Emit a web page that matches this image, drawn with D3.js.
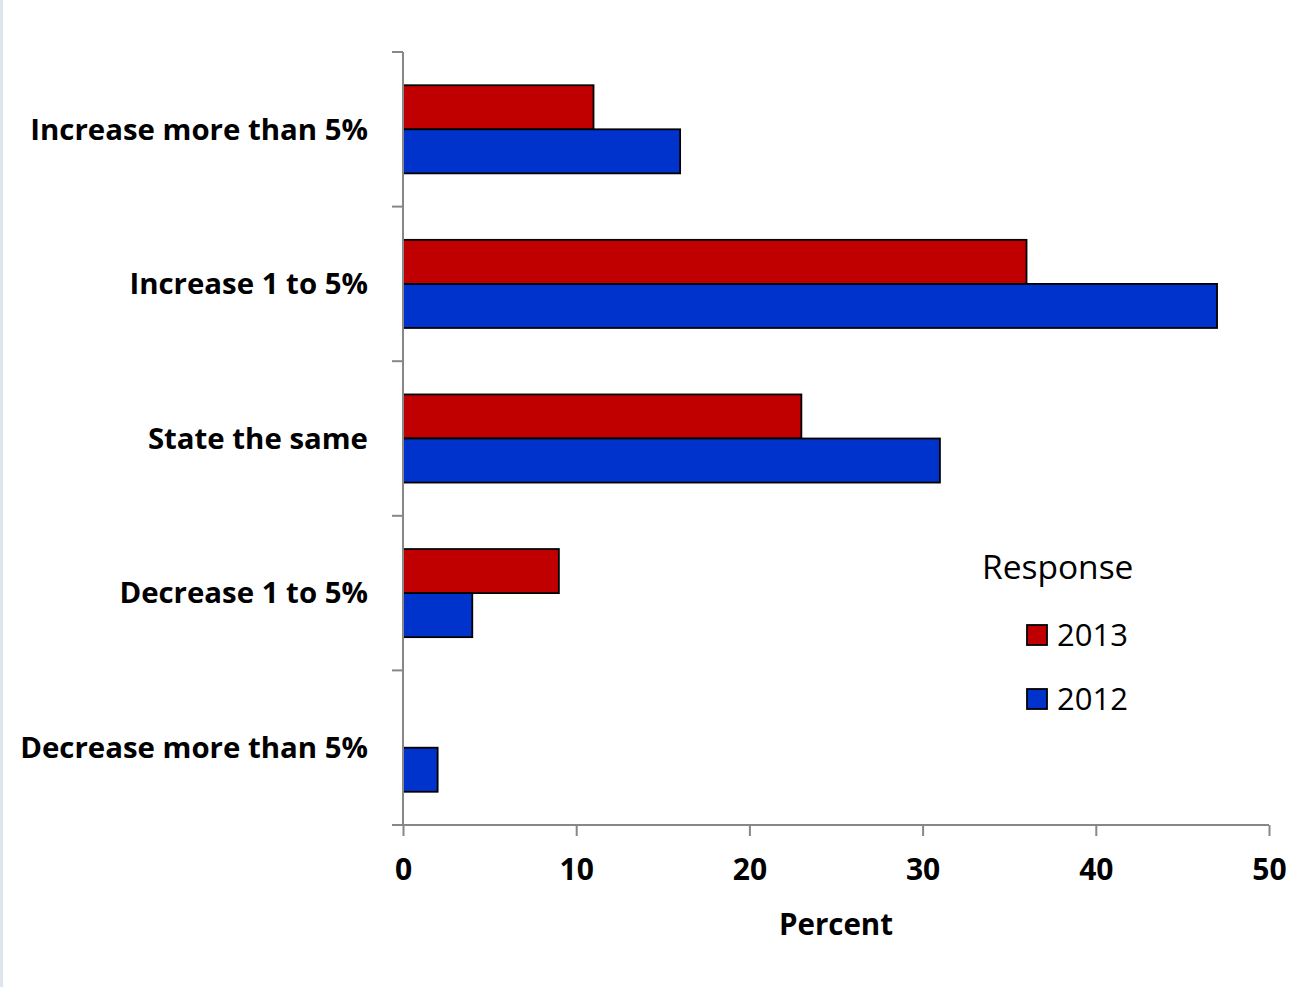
<!DOCTYPE html>
<html>
<head>
<meta charset="utf-8">
<script src="https://cdn.jsdelivr.net/npm/d3@7"></script>
<style>
  body { margin: 0; background: #fff; }
  svg { display: block; }
</style>
</head>
<body>
<div id="chart"></div>
<script>
// Categories top to bottom
const categories = [
    'Increase more than 5%',
    'Increase 1 to 5%',
    'State the same',
    'Decrease 1 to 5%',
    'Decrease more than 5%'
];
const seriesNames = ['2013', '2012'];
const values2013 = [11, 36, 23, 9, 0];
const values2012 = [16, 47, 31, 4, 2];
const xTicks = [0, 10, 20, 30, 40, 50];
const colors = { '2013': '#C00000', '2012': '#0033CC' };

const width = 1313, height = 987;
const margin = { left: 403, right: 44, top: 52, bottom: 162 };
const font = '"Open Sans", Lato, sans-serif';

const svg = d3.select('#chart').append('svg')
    .attr('width', width)
    .attr('height', height);

// thin strip at the left edge (screenshot border)
svg.append('rect')
    .attr('x', 0).attr('y', 0)
    .attr('width', 3).attr('height', height)
    .attr('fill', '#dfe5ee');

const x = d3.scaleLinear()
    .domain([0, 50])
    .range([margin.left, width - margin.right]);

const y = d3.scaleBand()
    .domain(categories)
    .range([margin.top, height - margin.bottom])
    .paddingInner(0.43)
    .paddingOuter(0.215);

const ySub = d3.scaleBand()
    .domain(seriesNames)
    .range([0, y.bandwidth()]);

const rows = categories.map((c, i) => ({
    cat: c,
    vals: [
        { s: '2013', v: values2013[i] },
        { s: '2012', v: values2012[i] }
    ]
}));

// bars
const groups = svg.append('g').selectAll('g')
    .data(rows)
    .enter()
    .append('g')
    .attr('transform', d => `translate(0, ${y(d.cat)})`);

groups.selectAll('rect')
    .data(d => d.vals.filter(v => v.v > 0))
    .enter()
    .append('rect')
    .attr('x', x(0))
    .attr('y', d => ySub(d.s))
    .attr('width', d => x(d.v) - x(0))
    .attr('height', ySub.bandwidth())
    .attr('fill', d => colors[d.s])
    .attr('stroke', '#000')
    .attr('stroke-width', 1.8);

// y axis: line with ticks at category boundaries
const axisColor = '#878787';
const yBounds = d3.range(categories.length + 1)
    .map(i => margin.top + i * y.step());

const yAxis = svg.append('g');
yAxis.append('line')
    .attr('x1', x(0)).attr('x2', x(0))
    .attr('y1', margin.top).attr('y2', height - margin.bottom)
    .attr('stroke', axisColor).attr('stroke-width', 2);
yAxis.selectAll('.yt')
    .data(yBounds)
    .enter()
    .append('line')
    .attr('x1', x(0) - 11).attr('x2', x(0))
    .attr('y1', d => d).attr('y2', d => d)
    .attr('stroke', axisColor).attr('stroke-width', 2);

yAxis.selectAll('.yl')
    .data(categories)
    .enter()
    .append('text')
    .attr('x', x(0) - 35)
    .attr('y', d => y(d) + y.bandwidth() / 2)
    .attr('dy', '0.35em')
    .attr('text-anchor', 'end')
    .attr('font-family', font)
    .attr('font-weight', 'bold')
    .attr('font-size', '29.4px')
    .attr('fill', '#000')
    .text(d => d);

// x axis
const xAxis = svg.append('g')
    .attr('transform', `translate(0, ${height - margin.bottom})`)
    .call(d3.axisBottom(x).tickValues(xTicks).tickSize(11).tickPadding(23).tickSizeOuter(0));

xAxis.select('.domain')
    .attr('stroke', axisColor).attr('stroke-width', 2)
    .attr('d', `M${x(0) - 11},0H${x(50)}`);
xAxis.selectAll('.tick line')
    .attr('stroke', axisColor).attr('stroke-width', 2);
xAxis.selectAll('.tick text')
    .attr('font-family', font)
    .attr('font-weight', 'bold')
    .attr('font-size', '30px')
    .attr('fill', '#000');

svg.append('text')
    .attr('x', (x(0) + x(50)) / 2)
    .attr('y', 935)
    .attr('text-anchor', 'middle')
    .attr('font-family', font)
    .attr('font-weight', 'bold')
    .attr('font-size', '29.5px')
    .text('Percent');

// legend
const legend = svg.append('g');
legend.append('text')
    .attr('x', 982)
    .attr('y', 579)
    .attr('font-family', font)
    .attr('font-size', '33.5px')
    .text('Response');

const legendItems = legend.selectAll('.li')
    .data(seriesNames)
    .enter()
    .append('g')
    .attr('transform', (d, i) => `translate(1027, ${625 + i * 64})`);

legendItems.append('rect')
    .attr('width', 20).attr('height', 20)
    .attr('fill', d => colors[d])
    .attr('stroke', '#000')
    .attr('stroke-width', 1.8);

legendItems.append('text')
    .attr('x', 30)
    .attr('y', 21)
    .attr('font-family', font)
    .attr('font-size', '31px')
    .text(d => d);
</script>
</body>
</html>
